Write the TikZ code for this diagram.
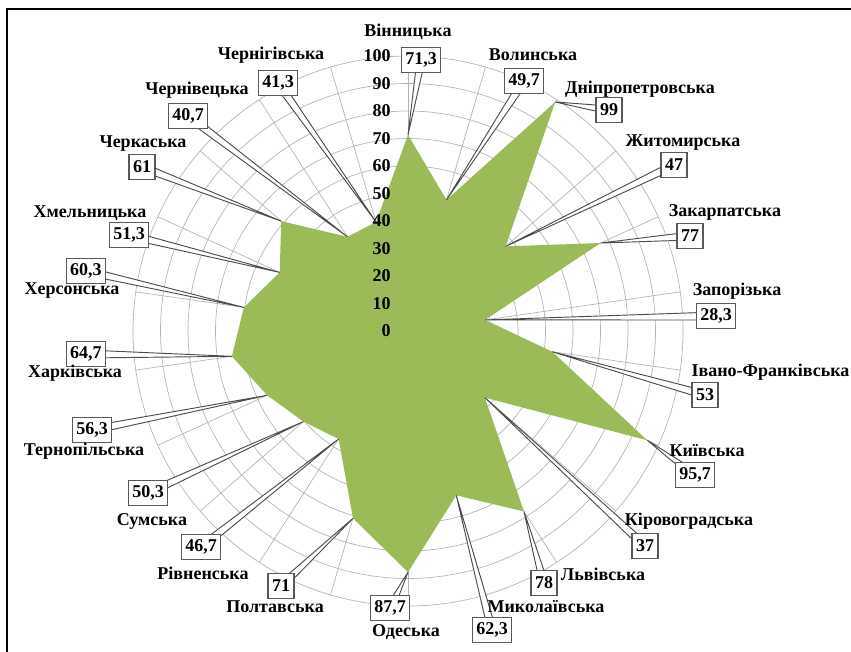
\documentclass[tikz,border=0pt]{standalone}
\usepackage{fontspec}
\setmainfont{Liberation Serif}
\usepackage{tikz}
\usetikzlibrary{calc}

\definecolor{radargreen}{RGB}{155,187,89}
\pgfdeclarelayer{grid}
\pgfdeclarelayer{wedges}
\pgfsetlayers{grid,wedges,main}

\begin{document}
\begin{tikzpicture}[
                x=0.75pt, y=-0.75pt,
                every node/.style={font=\bfseries\fontsize{13.5}{15}\selectfont},
                region/.style={inner sep=1pt},
                valbox/.style={draw=black!65, line width=1pt, fill=white, inner xsep=3pt, inner ysep=0pt, minimum height=18.5pt},
                tick/.style={anchor=east, inner sep=0pt},
                callout/.style={draw=black!70, line width=0.7pt, fill=white},
                ring/.style={draw=black!30, line width=0.5pt}
            ]

            \useasboundingbox (0,0) rectangle (851,652);
            \draw[line width=1.5pt] (7,652) -- (7,9) -- (851,9);

            \coordinate (o) at (408,331);

            % data points
            \foreach \i/\v in {0/71.3, 1/49.7, 2/99, 3/47, 4/77, 5/28.3, 6/53, 7/95.7, 8/37, 9/78, 10/62.3,
                               11/87.7, 12/71, 13/46.7, 14/50.3, 15/56.3, 16/64.7, 17/60.3, 18/51.3, 19/61, 20/40.7, 21/41.3}
                \coordinate (p\i) at ($(o)+({-90+\i*360/22}:{\v*2.75})$);

            \begin{pgfonlayer}{grid}
                \foreach \k in {1,...,10}
                    \draw[ring] (o) circle [radius={\k*20.625pt}];
                \foreach \i in {0,...,21}
                    \draw[ring] (o) -- ++({-90+\i*360/22}:275);
                \fill[radargreen] (p0) \foreach \i in {1,...,21} {-- (p\i)} -- cycle;
            \end{pgfonlayer}

            % scale
            \foreach \lab in {0,10,...,100}
                \node (t\lab) [tick] at (391,{331-\lab*2.75}) {\lab};

            % value boxes
            \node (v0) [valbox] at (421,60) {71,3};
            \node (v1) [valbox] at (524,81) {49,7};
            \node (v2) [valbox] at (609,110) {99};
            \node (v3) [valbox] at (674,165) {47};
            \node (v4) [valbox] at (690,236) {77};
            \node (v5) [valbox] at (716,316) {28,3};
            \node (v6) [valbox] at (705,395) {53};
            \node (v7) [valbox] at (695,475) {95,7};
            \node (v8) [valbox] at (645,546) {37};
            \node (v9) [valbox] at (544,583) {78};
            \node (v10) [valbox] at (492,630) {62,3};
            \node (v11) [valbox] at (390,608) {87,7};
            \node (v12) [valbox] at (281,586) {71};
            \node (v13) [valbox] at (201,547) {46,7};
            \node (v14) [valbox] at (148,493) {50,3};
            \node (v15) [valbox] at (92,430) {56,3};
            \node (v16) [valbox] at (86,354) {64,7};
            \node (v17) [valbox] at (86,271) {60,3};
            \node (v18) [valbox] at (129,235) {51,3};
            \node (v19) [valbox] at (142,167) {61};
            \node (v20) [valbox] at (188,116) {40,7};
            \node (v21) [valbox] at (278,83) {41,3};

            % region names
            \node (c0) [region] at (408,32) {Вінницька};
            \node (c1) [region] at (533,55) {Волинська};
            \node (c2) [region] at (640,89) {Дніпропетровська};
            \node (c3) [region] at (683,143) {Житомирська};
            \node (c4) [region] at (725,212) {Закарпатська};
            \node (c5) [region] at (737,291) {Запорізька};
            \node (c6) [region, anchor=west] at (690,372) {Івано-Франківська};
            \node (c7) [region] at (707,451) {Київська};
            \node (c8) [region] at (689,521) {Кіровоградська};
            \node (c9) [region] at (603,574) {Львівська};
            \node (c10) [region] at (546,607) {Миколаївська};
            \node (c11) [region] at (406,632) {Одеська};
            \node (c12) [region] at (275,607) {Полтавська};
            \node (c13) [region] at (203,573) {Рівненська};
            \node (c14) [region] at (152,521) {Сумська};
            \node (c15) [region] at (84,451) {Тернопільська};
            \node (c16) [region] at (75,373) {Харківська};
            \node (c17) [region] at (72,291) {Херсонська};
            \node (c18) [region] at (90,213) {Хмельницька};
            \node (c19) [region] at (143,144) {Черкаська};
            \node (c20) [region] at (197,90) {Чернівецька};
            \node (c21) [region] at (271,55) {Чернігівська};

            \begin{pgfonlayer}{wedges}
                \foreach \i in {0,...,21}
                    \filldraw[callout] ($(v\i.center)!3pt!90:(p\i)$) -- (p\i) -- ($(v\i.center)!3pt!-90:(p\i)$) -- cycle;
            \end{pgfonlayer}

        \end{tikzpicture}
\end{document}
